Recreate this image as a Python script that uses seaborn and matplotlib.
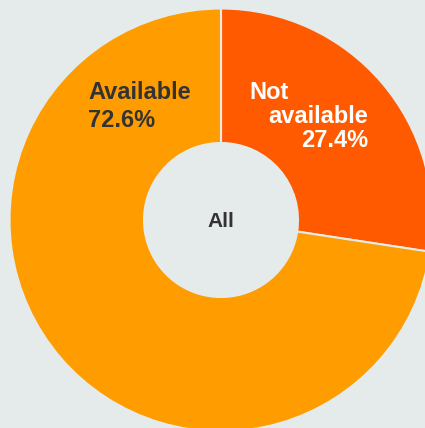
import matplotlib
matplotlib.use("Agg")
import matplotlib.pyplot as plt
import seaborn as sns

# --- data ---
labels = ["Not available", "Available"]
shares = [27.4, 72.6]
colors = ["#ff5a00", "#ff9c00"]
center_label = "All"

BG = "#e5ebeb"
DARK = "#333333"
W, H = 425, 428

sns.set_theme(style="white")
plt.rcParams["font.family"] = ["Liberation Sans", "DejaVu Sans"]

fig = plt.figure(figsize=(W / 100, H / 100), dpi=100, facecolor=BG)
ax = fig.add_axes([0, 0, 1, 1])
ax.set_facecolor(BG)

# pie in pixel-like data coords (y up)
cx, cy = 221, H - 220
r_out, r_in = 211.5, 77
ax.pie(shares, colors=colors, startangle=90, counterclock=False,
       center=(cx, cy), radius=r_out, frame=True,
       wedgeprops=dict(width=r_out - r_in, edgecolor=BG, linewidth=1.5))
ax.set_xlim(0, W)
ax.set_ylim(0, H)
ax.set_aspect("equal")
ax.axis("off")

def py(y):
    return H - y

fs = 17
ax.text(88, py(99), "Available", fontsize=fs, fontweight="bold", color=DARK,
        ha="left", va="baseline")
ax.text(88, py(127), f"{shares[1]:.1f}%", fontsize=fs, fontweight="bold", color=DARK,
        ha="left", va="baseline")
ax.text(249, py(99), "Not", fontsize=fs, fontweight="bold", color="white",
        ha="left", va="baseline")
ax.text(368, py(123), "available", fontsize=fs, fontweight="bold", color="white",
        ha="right", va="baseline")
ax.text(368, py(147), f"{shares[0]:.1f}%", fontsize=fs, fontweight="bold", color="white",
        ha="right", va="baseline")
ax.text(221, py(227), center_label, fontsize=15, fontweight="bold", color=DARK,
        ha="center", va="baseline")

fig.savefig("out.png", dpi=100, facecolor=BG)
